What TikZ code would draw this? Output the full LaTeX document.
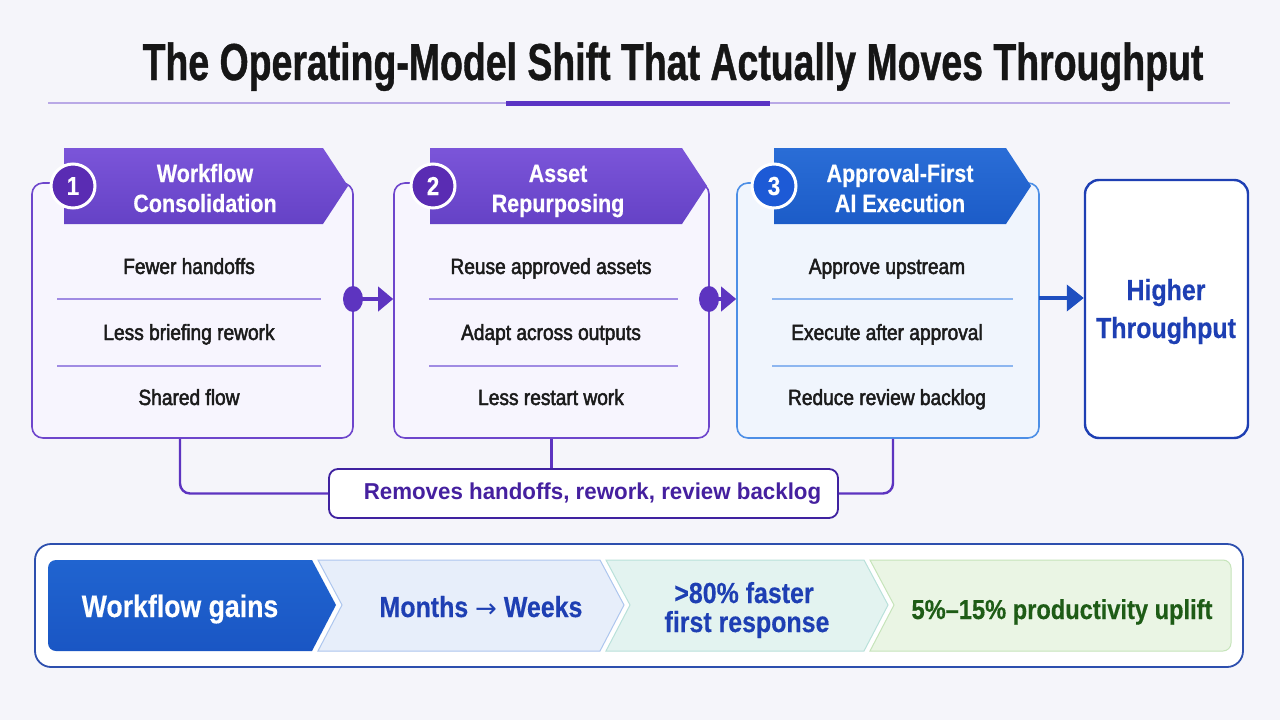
\documentclass[tikz,border=0pt]{standalone}
\usepackage{fontspec}
\setmainfont{Liberation Sans}
\newfontfamily\titlefont{Liberation Sans}[FakeStretch=0.72, UprightFont=* Bold, FakeBold=0.8]
\newfontfamily\headfont{Liberation Sans}[FakeStretch=0.86, UprightFont=* Bold, FakeBold=0.4]
\newfontfamily\itemfont{Liberation Sans}[FakeStretch=0.87, FakeBold=2.2]
\newfontfamily\labelfont{Liberation Sans}[FakeStretch=0.97, UprightFont=* Bold]
\newfontfamily\arrowfont{DejaVu Sans}
\usetikzlibrary{arrows.meta}
\newcommand\fsz[1]{\fontsize{#1}{#1}\selectfont}

\definecolor{bgcol}{HTML}{F5F5FA}
\definecolor{titlecol}{HTML}{161616}
\definecolor{rulelight}{HTML}{B9A9E6}
\definecolor{ruledark}{HTML}{5B34C4}
\definecolor{cardpurple}{HTML}{6E46CC}
\definecolor{cardfill}{HTML}{F7F5FE}
\definecolor{headtop}{HTML}{7B55D9}
\definecolor{headbot}{HTML}{6542C6}
\definecolor{numpurple}{HTML}{5A2CB3}
\definecolor{seppurple}{HTML}{A08BE3}
\definecolor{itemcol}{HTML}{1B1B1B}
\definecolor{cardblue}{HTML}{4D8FE6}
\definecolor{cardfillblue}{HTML}{F0F5FD}
\definecolor{headbluetop}{HTML}{2A6DD6}
\definecolor{headbluebot}{HTML}{1C5CC8}
\definecolor{numblue}{HTML}{1D5AD6}
\definecolor{sepblue}{HTML}{8DB6F0}
\definecolor{darkblue}{HTML}{1E3FB3}
\definecolor{linkpurple}{HTML}{5D34C0}
\definecolor{linkblue}{HTML}{1E4FC0}
\definecolor{labtext}{HTML}{45209F}
\definecolor{labborder}{HTML}{3F22A0}
\definecolor{stripborder}{HTML}{2D4FAE}
\definecolor{segblue}{HTML}{2064D0}
\definecolor{segbluebot}{HTML}{1A56C4}
\definecolor{segtwo}{HTML}{E7EEFA}
\definecolor{segtwoline}{HTML}{ADC6EE}
\definecolor{segthree}{HTML}{E3F3F0}
\definecolor{segthreeline}{HTML}{B9E1DA}
\definecolor{segfour}{HTML}{EAF5E4}
\definecolor{segfourline}{HTML}{C6E4BA}
\definecolor{greentext}{HTML}{1E5C16}

\tikzset{
  card/.style={rectangle, rounded corners=11pt, line width=1.6pt, inner sep=0pt},
  purplecard/.style={card, draw=cardpurple, fill=cardfill},
  bluecard/.style={card, draw=cardblue, fill=cardfillblue},
  numdot/.style={circle, minimum size=44pt, inner sep=0pt, draw=white, line width=3pt,
    text=white, font=\headfont\fsz{26}},
  headtext/.style={anchor=base, inner sep=0pt, text=white, font=\headfont\fsz{25}},
  itemtext/.style={anchor=base, inner sep=0pt, text=itemcol, font=\itemfont\fsz{22}},
  hitext/.style={anchor=base, inner sep=0pt, text=darkblue, font=\headfont\fsz{29}},
  segtext/.style={anchor=base, inner sep=0pt, font=\headfont\fsz{29}},
  sepline/.style={line width=1.1pt},
  link/.style={line width=4pt, -{Triangle[length=15pt,width=24pt]}},
  bracket/.style={draw=linkpurple, line width=2.4pt, rounded corners=10pt},
  segline/.style={line width=1pt}
}

\begin{document}
\begin{tikzpicture}[x=1pt, y=-1pt]
% canvas
\fill[bgcol] (0,0) rectangle (1280,720);
\useasboundingbox (0,0) rectangle (1280,720);

% title and rule
\node[anchor=base, inner sep=0pt, text=titlecol, font=\titlefont\fsz{52}] (title) at (673,80)
  {The Operating-Model Shift That Actually Moves Throughput};
\coordinate (ruleL) at (48,103);
\coordinate (ruleR) at (1230,103);
\coordinate (barL) at (506,103);
\coordinate (barR) at (770,103);
\draw[rulelight, line width=1.5pt] (ruleL) -- (ruleR);
\draw[ruledark, line width=5pt] (barL) -- (barR);

% step cards
\node[purplecard, minimum width=321pt, minimum height=255pt] (c1) at (192.5,310.5) {};
\node[purplecard, minimum width=315pt, minimum height=255pt] (c2) at (551.5,310.5) {};
\node[bluecard, minimum width=302pt, minimum height=255pt] (c3) at (888,310.5) {};

% separators inside cards
\draw[sepline, seppurple] (57,299) -- (321,299);
\draw[sepline, seppurple] (57,366) -- (321,366);
\draw[sepline, seppurple] (429,299) -- (678,299);
\draw[sepline, seppurple] (429,366) -- (678,366);
\draw[sepline, sepblue] (772,299) -- (1013,299);
\draw[sepline, sepblue] (772,366) -- (1013,366);

% header banners
\shade[top color=headtop, bottom color=headbot]
  (64,148) -- (323,148) -- (348,186) -- (323,224) -- (64,224) -- cycle;
\shade[top color=headtop, bottom color=headbot]
  (430,148) -- (682,148) -- (707,186) -- (682,224) -- (430,224) -- cycle;
\shade[top color=headbluetop, bottom color=headbluebot]
  (774,148) -- (1006,148) -- (1031,186) -- (1006,224) -- (774,224) -- cycle;

% step numbers
\node[numdot, fill=numpurple] (n1) at (73,186) {1};
\node[numdot, fill=numpurple] (n2) at (433,186) {2};
\node[numdot, fill=numblue] (n3) at (774,186) {3};

% header titles
\node[headtext] (h1a) at (205,182) {Workflow};
\node[headtext] (h1b) at (205,212) {Consolidation};
\node[headtext] (h2a) at (558,182) {Asset};
\node[headtext] (h2b) at (558,212) {Repurposing};
\node[headtext] (h3a) at (900,182) {Approval-First};
\node[headtext] (h3b) at (900,212) {AI Execution};

% card items
\node[itemtext] (i11) at (189,274) {Fewer handoffs};
\node[itemtext] (i12) at (189,340) {Less briefing rework};
\node[itemtext] (i13) at (189,405) {Shared flow};
\node[itemtext] (i21) at (551,274) {Reuse approved assets};
\node[itemtext] (i22) at (551,340) {Adapt across outputs};
\node[itemtext] (i23) at (551,405) {Less restart work};
\node[itemtext] (i31) at (887,274) {Approve upstream};
\node[itemtext] (i32) at (887,340) {Execute after approval};
\node[itemtext] (i33) at (887,405) {Reduce review backlog};

% result box
\node[rectangle, rounded corners=14pt, draw=darkblue, line width=2.4pt, fill=white,
  minimum width=163pt, minimum height=258pt, inner sep=0pt] (hi) at (1166.5,309) {};
\node[hitext] (hia) at (1166,300) {Higher};
\node[hitext] (hib) at (1166,338) {Throughput};

% links between stages
\coordinate (d1) at (353,299);
\coordinate (d2) at (709,299);
\coordinate (d3) at (1039,298);
\fill[linkpurple] (d1) ellipse [x radius=10pt, y radius=13pt];
\fill[linkpurple] (d2) ellipse [x radius=10pt, y radius=13pt];
\draw[link, linkpurple] (d1) -- (d1 -| c2.west);
\draw[link, linkpurple] (d2) -- (d2 -| c3.west);
\draw[line width=4pt, linkblue, -{Triangle[length=17pt,width=26pt]}] (d3) -- (d3 -| hi.west);

% shared outcome label
\node[rectangle, rounded corners=9pt, draw=labborder, line width=1.8pt, fill=white,
  minimum width=509pt, minimum height=49pt, inner sep=0pt, text=labtext,
  font=\labelfont\fsz{23}] (lab) at (583.5,493.5)
  {\hspace*{18pt}Removes handoffs, rework, review backlog};
\draw[bracket] ([xshift=-12.5pt]c1.south) |- (lab.west);
\draw[bracket] (c2.south) -- (c2.south |- lab.north);
\draw[bracket] (lab.east) -| ([xshift=5pt]c3.south);

% gains strip
\node[rectangle, rounded corners=16pt, draw=stripborder, line width=1.8pt, fill=white,
  minimum width=1208pt, minimum height=123pt, inner sep=0pt] (strip) at (639,605.5) {};
\shade[top color=segblue, bottom color=segbluebot]
  (336,605) -- (312,651) [rounded corners=8pt] -- (48,651) -- (48,560) [sharp corners] -- (312,560) -- cycle;
\filldraw[fill=segtwo, draw=segtwoline, segline]
  (318,560) -- (600,560) -- (624,605) -- (600,651) -- (318,651) -- (342,605) -- cycle;
\filldraw[fill=segthree, draw=segthreeline, segline]
  (606,560) -- (864,560) -- (888,605) -- (864,651) -- (606,651) -- (630,605) -- cycle;
\filldraw[fill=segfour, draw=segfourline, segline]
  (894,605) -- (870,560) [rounded corners=8pt] -- (1231,560) -- (1231,651) [sharp corners] -- (870,651) -- cycle;

\node[segtext, text=white, font=\headfont\fsz{31}] (s1) at (180,617) {Workflow gains};
\node[segtext, text=darkblue] (s2) at (481,617) {Months {\arrowfont\fsz{26}→} Weeks};
\node[segtext, text=darkblue] (s3a) at (744,603) {>80\% faster};
\node[segtext, text=darkblue] (s3b) at (747,632) {first response};
\node[segtext, text=greentext, font=\headfont\fsz{27.5}] (s4) at (1062,619) {5\%–15\% productivity uplift};
\end{tikzpicture}
\end{document}
